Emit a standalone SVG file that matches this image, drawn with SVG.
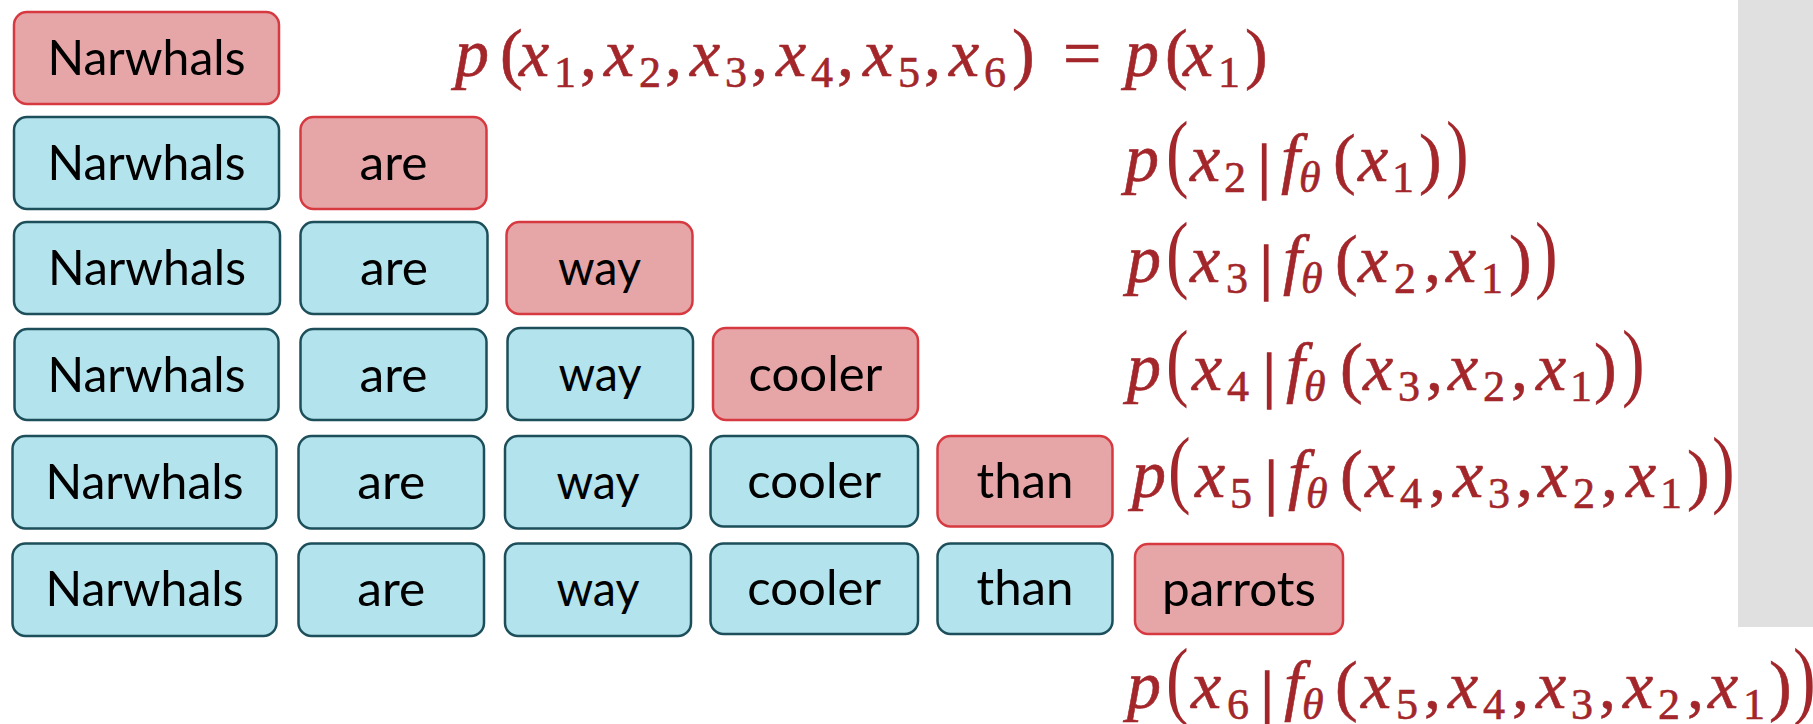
<svg xmlns="http://www.w3.org/2000/svg" width="1813" height="724" viewBox="0 0 1813 724">
<style>
.red rect{fill:#E6A6A8;stroke:#D63A40;stroke-width:2.5}
.blue rect{fill:#B3E3EC;stroke:#1D4F5B;stroke-width:2.5}
.lbl{font-family:Lato,"Open Sans","Liberation Sans",sans-serif;font-size:48px;fill:#000;text-anchor:middle}
.eq{font-family:"Liberation Serif","Times New Roman",serif;font-size:68px;fill:#A3262A;stroke:#A3262A;stroke-width:0.6}
.i{font-style:italic}
.s{font-size:44px}
.bar{font-size:62px;stroke-width:1.6}
.big{font-family:"Liberation Serif","Times New Roman",serif;font-size:68px;fill:#A3262A}
</style>
<rect x="1738" y="0" width="75" height="627" fill="#E0E0E0"/>
<g id="connectors"/>
<!-- Row 1 -->
<g id="r1-narwhals" class="red"><rect x="14" y="12" width="265" height="92" rx="13"/><text class="lbl" x="146.5" y="75" textLength="198" lengthAdjust="spacingAndGlyphs">Narwhals</text></g>
<!-- Row 2 -->
<g id="r2-narwhals" class="blue"><rect x="14" y="117" width="265" height="92" rx="13"/><text class="lbl" x="146.5" y="180" textLength="198" lengthAdjust="spacingAndGlyphs">Narwhals</text></g>
<g id="r2-are" class="red"><rect x="300.5" y="117" width="186" height="92" rx="13"/><text class="lbl" x="393.5" y="180" textLength="68" lengthAdjust="spacingAndGlyphs">are</text></g>
<!-- Row 3 -->
<g id="r3-narwhals" class="blue"><rect x="14" y="222" width="266" height="92" rx="13"/><text class="lbl" x="147" y="285" textLength="198" lengthAdjust="spacingAndGlyphs">Narwhals</text></g>
<g id="r3-are" class="blue"><rect x="300.5" y="222" width="187" height="92" rx="13"/><text class="lbl" x="394" y="285" textLength="68" lengthAdjust="spacingAndGlyphs">are</text></g>
<g id="r3-way" class="red"><rect x="506.5" y="222" width="186" height="92" rx="13"/><text class="lbl" x="599.5" y="285" textLength="83" lengthAdjust="spacingAndGlyphs">way</text></g>
<!-- Row 4 -->
<g id="r4-narwhals" class="blue"><rect x="14.5" y="329" width="264" height="91" rx="13"/><text class="lbl" x="146.5" y="392" textLength="198" lengthAdjust="spacingAndGlyphs">Narwhals</text></g>
<g id="r4-are" class="blue"><rect x="300.5" y="329" width="186" height="91" rx="13"/><text class="lbl" x="393.5" y="392" textLength="68" lengthAdjust="spacingAndGlyphs">are</text></g>
<g id="r4-way" class="blue"><rect x="507.5" y="328" width="185.5" height="92" rx="13"/><text class="lbl" x="600" y="391" textLength="83" lengthAdjust="spacingAndGlyphs">way</text></g>
<g id="r4-cooler" class="red"><rect x="713" y="328" width="205" height="92" rx="13"/><text class="lbl" x="815.5" y="391" textLength="134" lengthAdjust="spacingAndGlyphs">cooler</text></g>
<!-- Row 5 -->
<g id="r5-narwhals" class="blue"><rect x="12.5" y="436" width="264" height="92.5" rx="13"/><text class="lbl" x="144.5" y="499" textLength="198" lengthAdjust="spacingAndGlyphs">Narwhals</text></g>
<g id="r5-are" class="blue"><rect x="298.5" y="436" width="185.5" height="92.5" rx="13"/><text class="lbl" x="391.25" y="499" textLength="68" lengthAdjust="spacingAndGlyphs">are</text></g>
<g id="r5-way" class="blue"><rect x="505" y="436" width="186" height="92.5" rx="13"/><text class="lbl" x="598" y="499" textLength="83" lengthAdjust="spacingAndGlyphs">way</text></g>
<g id="r5-cooler" class="blue"><rect x="710.5" y="436" width="207.5" height="90.5" rx="13"/><text class="lbl" x="814.25" y="498" textLength="134" lengthAdjust="spacingAndGlyphs">cooler</text></g>
<g id="r5-than" class="red"><rect x="937.5" y="436" width="175" height="90.5" rx="13"/><text class="lbl" x="1025" y="498" textLength="97" lengthAdjust="spacingAndGlyphs">than</text></g>
<!-- Row 6 -->
<g id="r6-narwhals" class="blue"><rect x="12.5" y="543.5" width="264" height="92.5" rx="13"/><text class="lbl" x="144.5" y="606" textLength="198" lengthAdjust="spacingAndGlyphs">Narwhals</text></g>
<g id="r6-are" class="blue"><rect x="298.5" y="543.5" width="185.5" height="92.5" rx="13"/><text class="lbl" x="391.25" y="606" textLength="68" lengthAdjust="spacingAndGlyphs">are</text></g>
<g id="r6-way" class="blue"><rect x="505" y="543.5" width="186" height="92.5" rx="13"/><text class="lbl" x="598" y="606" textLength="83" lengthAdjust="spacingAndGlyphs">way</text></g>
<g id="r6-cooler" class="blue"><rect x="710.5" y="543.5" width="207.5" height="90.5" rx="13"/><text class="lbl" x="814.25" y="605" textLength="134" lengthAdjust="spacingAndGlyphs">cooler</text></g>
<g id="r6-than" class="blue"><rect x="937.5" y="543.5" width="175" height="90.5" rx="13"/><text class="lbl" x="1025" y="605" textLength="97" lengthAdjust="spacingAndGlyphs">than</text></g>
<g id="r6-parrots" class="red"><rect x="1135" y="544" width="208" height="90" rx="13"/><text class="lbl" x="1239" y="606" textLength="154" lengthAdjust="spacingAndGlyphs">parrots</text></g>

<!-- Equation line 1 -->
<g id="eq1">
<text class="eq"><tspan class="i" x="455" y="76">p</tspan><tspan x="500" y="76">(</tspan><tspan class="i" x="519" y="76">x</tspan><tspan class="s" x="554" y="87">1</tspan><tspan x="580" y="76">,</tspan><tspan class="i" x="604" y="76">x</tspan><tspan class="s" x="639" y="87">2</tspan><tspan x="665" y="76">,</tspan><tspan class="i" x="690" y="76">x</tspan><tspan class="s" x="725" y="87">3</tspan><tspan x="751" y="76">,</tspan><tspan class="i" x="776" y="76">x</tspan><tspan class="s" x="811" y="87">4</tspan><tspan x="837" y="76">,</tspan><tspan class="i" x="863" y="76">x</tspan><tspan class="s" x="898" y="87">5</tspan><tspan x="924" y="76">,</tspan><tspan class="i" x="949" y="76">x</tspan><tspan class="s" x="984" y="87">6</tspan><tspan x="1012" y="76">)</tspan><tspan x="1063" y="76">=</tspan><tspan class="i" x="1125" y="76">p</tspan><tspan x="1165" y="76">(</tspan><tspan class="i" x="1183" y="76">x</tspan><tspan class="s" x="1218" y="87">1</tspan><tspan x="1245" y="76">)</tspan></text>
</g>

<!-- Equation line 2 -->
<g id="eq2">
<text class="eq"><tspan class="i" x="1125" y="181">p</tspan><tspan class="i" x="1190" y="181">x</tspan><tspan class="s" x="1224" y="192">2</tspan><tspan class="bar" x="1258" y="187">|</tspan><tspan class="i" x="1281" y="181">f</tspan><tspan class="s i" x="1299" y="192">θ</tspan><tspan x="1333" y="181">(</tspan><tspan class="i" x="1358" y="181">x</tspan><tspan class="s" x="1392" y="192">1</tspan><tspan x="1419" y="181">)</tspan></text>
<text class="big" transform="translate(1166,181) scale(1,1.27)">(</text>
<text class="big" transform="translate(1446,181) scale(1,1.27)">)</text>
</g>

<!-- Equation line 3 -->
<g id="eq3">
<text class="eq"><tspan class="i" x="1127" y="282">p</tspan><tspan class="i" x="1190" y="282">x</tspan><tspan class="s" x="1226" y="293">3</tspan><tspan class="bar" x="1260" y="288">|</tspan><tspan class="i" x="1283" y="282">f</tspan><tspan class="s i" x="1301" y="293">θ</tspan><tspan x="1335" y="282">(</tspan><tspan class="i" x="1358" y="282">x</tspan><tspan class="s" x="1394" y="293">2</tspan><tspan x="1424" y="282">,</tspan><tspan class="i" x="1446" y="282">x</tspan><tspan class="s" x="1481" y="293">1</tspan><tspan x="1509" y="282">)</tspan></text>
<text class="big" transform="translate(1166,282) scale(1,1.27)">(</text>
<text class="big" transform="translate(1535,282) scale(1,1.27)">)</text>
</g>

<!-- Equation line 4 -->
<g id="eq4">
<text class="eq"><tspan class="i" x="1127" y="390">p</tspan><tspan class="i" x="1192" y="390">x</tspan><tspan class="s" x="1227" y="401">4</tspan><tspan class="bar" x="1263" y="396">|</tspan><tspan class="i" x="1286" y="390">f</tspan><tspan class="s i" x="1304" y="401">θ</tspan><tspan x="1340" y="390">(</tspan><tspan class="i" x="1363" y="390">x</tspan><tspan class="s" x="1398" y="401">3</tspan><tspan x="1426" y="390">,</tspan><tspan class="i" x="1448" y="390">x</tspan><tspan class="s" x="1483" y="401">2</tspan><tspan x="1511" y="390">,</tspan><tspan class="i" x="1536" y="390">x</tspan><tspan class="s" x="1570" y="401">1</tspan><tspan x="1594" y="390">)</tspan></text>
<text class="big" transform="translate(1166,390) scale(1,1.27)">(</text>
<text class="big" transform="translate(1622,390) scale(1,1.27)">)</text>
</g>

<!-- Equation line 5 -->
<g id="eq5">
<text class="eq"><tspan class="i" x="1132" y="497">p</tspan><tspan class="i" x="1195" y="497">x</tspan><tspan class="s" x="1230" y="508">5</tspan><tspan class="bar" x="1265" y="503">|</tspan><tspan class="i" x="1288" y="497">f</tspan><tspan class="s i" x="1306" y="508">θ</tspan><tspan x="1340" y="497">(</tspan><tspan class="i" x="1365" y="497">x</tspan><tspan class="s" x="1400" y="508">4</tspan><tspan x="1429" y="497">,</tspan><tspan class="i" x="1453" y="497">x</tspan><tspan class="s" x="1488" y="508">3</tspan><tspan x="1516" y="497">,</tspan><tspan class="i" x="1538" y="497">x</tspan><tspan class="s" x="1573" y="508">2</tspan><tspan x="1601" y="497">,</tspan><tspan class="i" x="1626" y="497">x</tspan><tspan class="s" x="1660" y="508">1</tspan><tspan x="1687" y="497">)</tspan></text>
<text class="big" transform="translate(1168,497) scale(1,1.27)">(</text>
<text class="big" transform="translate(1712,497) scale(1,1.27)">)</text>
</g>

<!-- Equation line 6 -->
<g id="eq6">
<text class="eq"><tspan class="i" x="1127" y="708">p</tspan><tspan class="i" x="1191" y="708">x</tspan><tspan class="s" x="1227" y="719">6</tspan><tspan class="bar" x="1261" y="714">|</tspan><tspan class="i" x="1284" y="708">f</tspan><tspan class="s i" x="1302" y="719">θ</tspan><tspan x="1335" y="708">(</tspan><tspan class="i" x="1361" y="708">x</tspan><tspan class="s" x="1396" y="719">5</tspan><tspan x="1424" y="708">,</tspan><tspan class="i" x="1448" y="708">x</tspan><tspan class="s" x="1483" y="719">4</tspan><tspan x="1512" y="708">,</tspan><tspan class="i" x="1536" y="708">x</tspan><tspan class="s" x="1571" y="719">3</tspan><tspan x="1599" y="708">,</tspan><tspan class="i" x="1623" y="708">x</tspan><tspan class="s" x="1658" y="719">2</tspan><tspan x="1687" y="708">,</tspan><tspan class="i" x="1708" y="708">x</tspan><tspan class="s" x="1743" y="719">1</tspan><tspan x="1769" y="708">)</tspan></text>
<text class="big" transform="translate(1166,708) scale(1,1.27)">(</text>
<text class="big" transform="translate(1793,708) scale(1,1.27)">)</text>
</g>
</svg>
